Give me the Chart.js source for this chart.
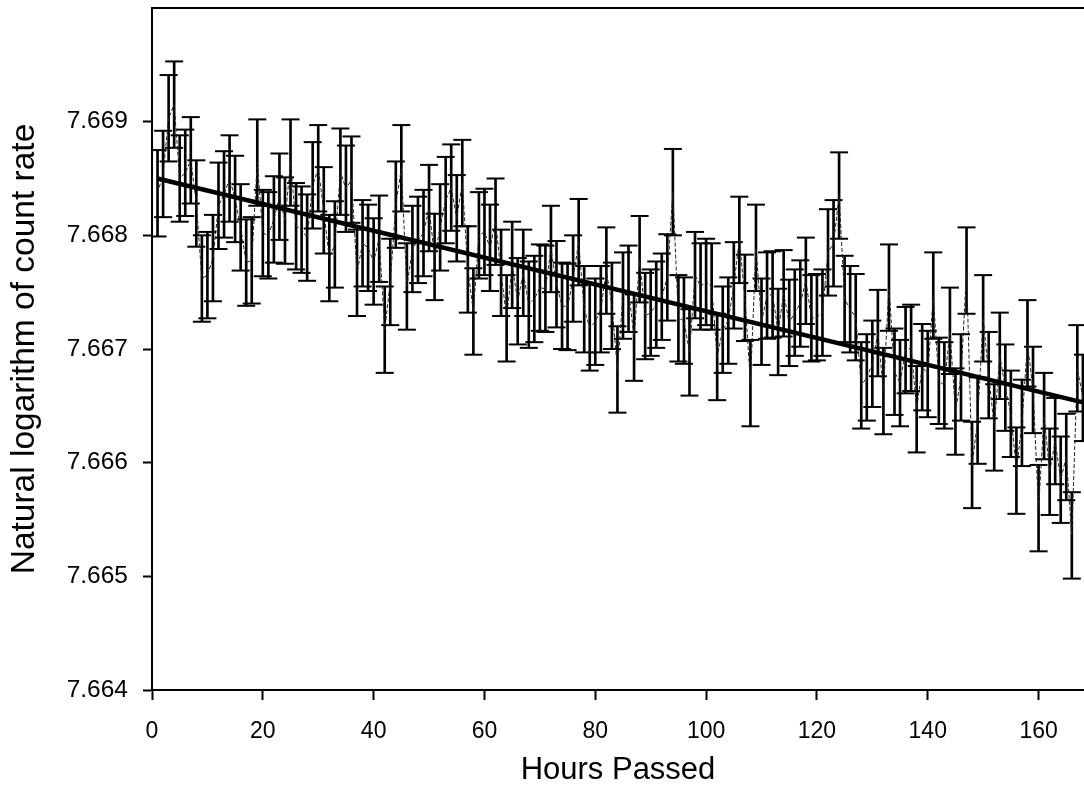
<!DOCTYPE html>
<html>
<head>
<meta charset="utf-8">
<title>Natural logarithm of count rate vs hours</title>
<script src="https://cdn.jsdelivr.net/npm/chart.js@4.4.1/dist/chart.umd.min.js"></script>
<style>
  html, body { margin: 0; padding: 0; background: #fff; overflow: hidden; }
  .chart-wrap { position: relative; width: 1084px; height: 803px; }
</style>
</head>
<body>
<div class="chart-wrap"><canvas id="decayChart"></canvas></div>
<script>
// --- Data (one reading per hour, hours 1..168) ---
const logRate = [
    7.66837, 7.66854, 7.66903, 7.66915, 7.66850, 7.66855, 7.66866, 7.66828, 7.66762, 7.66765,
    7.66780, 7.66826, 7.66836, 7.66850, 7.66832, 7.66807, 7.66776, 7.66778, 7.66864, 7.66802,
    7.66800, 7.66814, 7.66834, 7.66813, 7.66864, 7.66808, 7.66805, 7.66798, 7.66844, 7.66859,
    7.66822, 7.66780, 7.66792, 7.66856, 7.66841, 7.66849, 7.66767, 7.66793, 7.66789, 7.66777,
    7.66797, 7.66717, 7.66759, 7.66827, 7.66859, 7.66755, 7.66788, 7.66796, 7.66802, 7.66824,
    7.66781, 7.66807, 7.66831, 7.66842, 7.66815, 7.66846, 7.66770, 7.66733, 7.66800, 7.66803,
    7.66789, 7.66812, 7.66767, 7.66727, 7.66774, 7.66742, 7.66767, 7.66739, 7.66744, 7.66754,
    7.66753, 7.66788, 7.66757, 7.66738, 7.66737, 7.66762, 7.66794, 7.66735, 7.66719, 7.66724,
    7.66735, 7.66769, 7.66738, 7.66682, 7.66747, 7.66753, 7.66710, 7.66779, 7.66729, 7.66732,
    7.66739, 7.66746, 7.66763, 7.66838, 7.66727, 7.66725, 7.66697, 7.66765, 7.66755, 7.66759,
    7.66755, 7.66693, 7.66717, 7.66725, 7.66756, 7.66796, 7.66745, 7.66670, 7.66789, 7.66724,
    7.66747, 7.66748, 7.66715, 7.66749, 7.66723, 7.66732, 7.66740, 7.66760, 7.66727, 7.66728,
    7.66732, 7.66785, 7.66793, 7.66835, 7.66744, 7.66735, 7.66728, 7.66668, 7.66675, 7.66687,
    7.66714, 7.66663, 7.66754, 7.66680, 7.66670, 7.66699, 7.66701, 7.66647, 7.66684, 7.66678,
    7.66747, 7.66672, 7.66668, 7.66716, 7.66645, 7.66675, 7.66769, 7.66598, 7.66637, 7.66727,
    7.66677, 7.66631, 7.66694, 7.66666, 7.66643, 7.66593, 7.66635, 7.66705, 7.66664, 7.66560,
    7.66641, 7.66592, 7.66619, 7.66585, 7.66605, 7.66536, 7.66683, 7.66657
];
const errHalf = 0.00038;              // every bar is about the same length

// fitted straight line, end points
const fitHours = [1, 168];
const fitValues = [7.66850, 7.66653];

const xTicks = [0, 20, 40, 60, 80, 100, 120, 140, 160];
const yTicks = [7.664, 7.665, 7.666, 7.667, 7.668, 7.669];

document.addEventListener('DOMContentLoaded', () => {

    const hours = logRate.map((v, i) => i + 1);

    const family = '"Liberation Sans", Arial, sans-serif';

    // --- Top edge of the frame (no right edge, the plot runs off the page) ---
    const topFrame = {
        id: 'topFrame',
        afterDraw(chart) {
            const { ctx, chartArea } = chart;
            ctx.save();
            ctx.strokeStyle = '#000';
            ctx.lineWidth = 2;
            ctx.beginPath();
            ctx.moveTo(chartArea.left, chartArea.top);
            ctx.lineTo(chartArea.right, chartArea.top);
            ctx.stroke();
            ctx.restore();
        }
    };

    const ctx = document.getElementById('decayChart').getContext('2d');
    new Chart(ctx, {
        type: 'scatter',
        data: {
            datasets: [
                {
                    // fit line
                    type: 'line',
                    data: fitHours.map((h, i) => ({ x: h, y: fitValues[i] })),
                    borderColor: '#000',
                    borderWidth: 4.5,
                    pointRadius: 0,
                    order: 0
                },
                {
                    // thin line joining the readings
                    type: 'line',
                    data: hours.map((h, i) => ({ x: h, y: logRate[i] })),
                    borderColor: '#222',
                    borderWidth: 1,
                    borderDash: [4, 2],
                    pointRadius: 0,
                    tension: 0,
                    order: 1
                },
                {
                    // error bar caps
                    type: 'scatter',
                    data: hours.flatMap((h, i) => [
                        { x: h, y: logRate[i] - errHalf },
                        { x: h, y: logRate[i] + errHalf }
                    ]),
                    pointStyle: 'line',
                    pointRadius: 9,
                    borderWidth: 2,
                    borderColor: '#000',
                    order: 2
                },
                {
                    // error bar stems
                    type: 'bar',
                    data: hours.map((h, i) => ({ x: h, y: [logRate[i] - errHalf, logRate[i] + errHalf] })),
                    backgroundColor: '#000',
                    barThickness: 2,
                    grouped: false,
                    order: 3
                }
            ]
        },
        options: {
            responsive: true,
            maintainAspectRatio: false,
            animation: false,
            layout: { autoPadding: false, padding: { top: 8, left: 0, right: 0, bottom: 0 } },
            plugins: {
                legend: { display: false },
                tooltip: { enabled: false }
            },
            scales: {
                x: {
                    type: 'linear',
                    min: 0,
                    max: 168.2,
                    offset: false,
                    afterBuildTicks: (scale) => { scale.ticks = xTicks.map(v => ({ value: v })); },
                    afterFit: (scale) => {
                        scale.height = 113;
                        scale.paddingLeft = 0;
                        scale.paddingRight = 0;
                    },
                    grid: { offset: false, drawOnChartArea: false, drawTicks: true, tickLength: 10, tickWidth: 2, tickColor: '#000' },
                    border: { display: true, color: '#000', width: 2 },
                    ticks: { color: '#000', font: { family, size: 23 }, padding: 18, maxRotation: 0, autoSkip: false },
                    title: { display: true, text: 'Hours Passed', color: '#000', font: { family, size: 31 }, padding: { top: 0, bottom: 14 } }
                },
                y: {
                    type: 'linear',
                    min: 7.664,
                    max: 7.670,
                    afterBuildTicks: (scale) => { scale.ticks = yTicks.map(v => ({ value: v })); },
                    afterFit: (scale) => {
                        scale.width = 152;
                        scale.paddingTop = 0;
                        scale.paddingBottom = 0;
                    },
                    grid: { drawOnChartArea: false, drawTicks: true, tickLength: 9, tickWidth: 2, tickColor: '#000' },
                    border: { display: true, color: '#000', width: 2 },
                    ticks: { color: '#000', font: { family, size: 24.5 }, padding: 15, callback: (v) => v.toFixed(3) },
                    title: { display: true, text: 'Natural logarithm of count rate', color: '#000', font: { family, size: 33.5 }, padding: { top: 5, bottom: 0 } }
                }
            }
        },
        plugins: [topFrame]
    });
});
</script>
</body>
</html>
